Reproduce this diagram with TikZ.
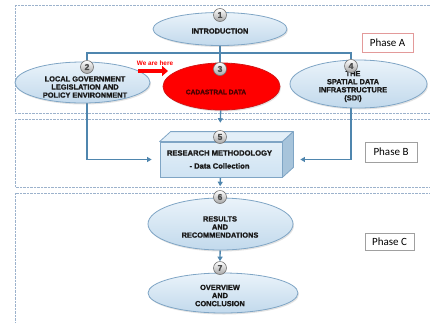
\documentclass[tikz,border=0pt]{standalone}
\usepackage{fontspec}
\setmainfont{Liberation Sans}
\newfontfamily\heavyfont[FakeBold=1.4]{Liberation Sans}
\newfontfamily\phasefont{Carlito}
\usetikzlibrary{shapes.geometric,arrows.meta,shadows,backgrounds,calc}

\definecolor{linkblue}{HTML}{4F86AE}
\definecolor{zoneline}{HTML}{9CB2CC}
\definecolor{ellT}{HTML}{EAF3FA}
\definecolor{ellB}{HTML}{C2D9EC}
\definecolor{ellline}{HTML}{7FA5C5}
\definecolor{hotred}{HTML}{FF0000}
\definecolor{hotline}{HTML}{D41515}
\definecolor{darkred}{HTML}{4A0000}
\definecolor{tagred}{HTML}{E39A9A}
\definecolor{taggray}{HTML}{A0A0A0}
\definecolor{boxfront}{HTML}{CFE3F3}
\definecolor{boxtop}{HTML}{E3EFF8}
\definecolor{boxside}{HTML}{A7C4DB}

\newcommand\stagetxt{\heavyfont\bfseries\fontsize{7.4}{8.1}\selectfont}

\tikzset{
  x=1pt, y=-1pt,
  stage/.style={ellipse, draw=ellline, line width=0.8pt, top color=ellT,
    bottom color=ellB, inner sep=0pt,
    drop shadow={opacity=0.22, shadow xshift=1pt, shadow yshift=-1.5pt}},
  hotstage/.style={ellipse, draw=hotline, line width=0.8pt, fill=hotred,
    inner sep=0pt,
    drop shadow={opacity=0.22, shadow xshift=1pt, shadow yshift=-1.5pt}},
  lbl/.style={align=center, font=\stagetxt, text=black!90, inner sep=0pt},
  numdot/.style={circle, draw=black!55, line width=0.6pt, top color=white,
    bottom color=black!35, minimum size=13pt, inner sep=0pt,
    font=\heavyfont\bfseries\fontsize{8.5}{9}\selectfont, text=black!70},
  zone/.style={draw=zoneline, line width=0.6pt, dash pattern=on 0.7pt off 0.7pt},
  link/.style={draw=linkblue, line width=1.3pt},
  linkarrow/.style={link, -{Triangle[length=4.5pt,width=5pt]}},
  tagbox/.style={draw=#1, line width=0.8pt, fill=white, inner sep=0pt,
    font=\phasefont\fontsize{11}{12}\selectfont, text=black},
}

\begin{document}
\begin{tikzpicture}
\useasboundingbox (0,0) rectangle (430,322);

% stages of phase A
\node[stage, minimum width=134pt, minimum height=33pt] (e1) at (220,29) {};
\node[lbl] (t1) at (220,31) {INTRODUCTION};
\node[numdot] (n1) at (220,15) {1};

\node[stage, minimum width=135pt, minimum height=41pt] (e2) at (82.5,82.5) {};
\node[lbl] (t2) at (85,87) {LOCAL GOVERNMENT\\LEGISLATION AND\\POLICY ENVIRONMENT};
\node[numdot] (n2) at (87,67) {2};

\node[hotstage, minimum width=117pt, minimum height=47pt] (e3) at (221.5,86.5) {};
\node[lbl, text=darkred, font=\heavyfont\bfseries\fontsize{6.6}{7}\selectfont] (t3) at (216,92) {CADASTRAL DATA};
\node[numdot] (n3) at (220,69) {3};

\node[stage, minimum width=137pt, minimum height=48pt] (e4) at (358.5,84) {};
\node[lbl] (t4) at (353,86.5) {THE\\SPATIAL DATA\\INFRASTRUCTURE\\(SDI)};
\node[numdot] (n4) at (351,66) {4};

\node[text=red, font=\bfseries\fontsize{6.4}{7}\selectfont, inner sep=0pt] (here) at (155,63) {We are here};
\coordinate (hereA) at (138,71);
\coordinate (hereB) at (168,71);
\draw[red, line width=4pt, -{Triangle[length=6pt,width=10pt]}] (hereA) -- (hereB);

% phase B: research box
\node[draw=ellline, line width=0.8pt, top color=boxtop, bottom color=boxfront,
      minimum width=122pt, minimum height=35pt, inner sep=0pt] (box) at (221,159.5) {};
\filldraw[draw=ellline, line width=0.8pt, fill=boxtop, line join=round]
  (box.north west) -- ++(11,-10) -- ($(box.north east)+(11,-10)$) -- (box.north east) -- cycle;
\filldraw[draw=ellline, line width=0.8pt, fill=boxside, line join=round]
  (box.north east) -- ++(11,-10) -- ($(box.south east)+(11,-10)$) -- (box.south east) -- cycle;
\node[lbl, font=\heavyfont\bfseries\fontsize{7.6}{13}\selectfont] (t5) at (219.5,159.5) {RESEARCH METHODOLOGY\\- Data Collection};
\node[numdot] (n5) at (220,137) {5};

% phase C stages
\node[stage, minimum width=145pt, minimum height=52pt] (e6) at (220.5,224) {};
\node[lbl] (t6) at (220,227) {RESULTS\\AND\\RECOMMENDATIONS};
\node[numdot] (n6) at (220,197) {6};

\node[stage, minimum width=150pt, minimum height=40pt] (e7) at (223,293) {};
\node[lbl] (t7) at (220,295.5) {OVERVIEW\\AND\\CONCLUSION};
\node[numdot] (n7) at (220,268) {7};

% phase tags
\node[tagbox=tagred, minimum width=51pt, minimum height=19pt] (pa) at (387.5,42.5) {Phase A};
\node[tagbox=taggray, minimum width=52pt, minimum height=20pt] (pb) at (391,152) {Phase B};
\node[tagbox=taggray, minimum width=49pt, minimum height=17pt] (pc) at (389.5,241.5) {Phase C};

\begin{scope}[on background layer]
  % dotted phase zones
  \draw[zone] (15,5) rectangle (440,113);
  \draw[zone] (15,119) rectangle (440,187);
  \draw[zone] (15,193) rectangle (440,330);
  % connectors
  \coordinate (bar) at (220,53);
  \draw[link] (e1) -- (n3);
  \draw[link] (n2) |- (bar) -| (n4);
  \draw[linkarrow, shorten >=8pt] (n2) |- (box.west);
  \draw[linkarrow, shorten >=18pt] (n4) |- (box.east);
  \draw[linkarrow, shorten >=7.5pt] (e3) -- (n5.north);
  \draw[linkarrow, shorten >=4pt] (box) -- (n6.north);
  \draw[linkarrow] (e6) -- (n7.north);
\end{scope}
\end{tikzpicture}
\end{document}
